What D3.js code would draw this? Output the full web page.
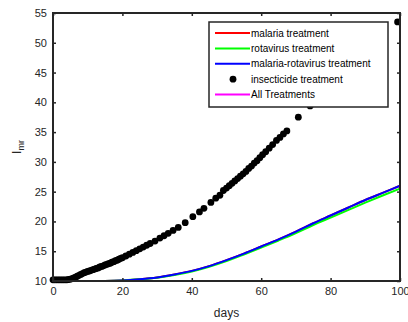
<!DOCTYPE html>
<html>
<head>
<meta charset="utf-8">
<script src="https://cdn.jsdelivr.net/npm/d3@7"></script>
<style>
  body { margin: 0; background: #fff; }
  svg { display: block; font-family: "Liberation Sans", Arial, sans-serif; }
</style>
</head>
<body>
<div id="chart"></div>
<script>
// solver output for the curve series (days)
var lineDays = [0, 5, 10, 15, 20, 25, 30, 35, 40, 45, 50, 55, 60, 65, 70, 75, 80, 85, 90, 95, 100];
var malaria =     [10, 10, 10, 10.02, 10.1, 10.3, 10.6, 11.1, 11.7, 12.5, 13.5, 14.6, 15.8, 17.0, 18.3, 19.7, 21.0, 22.3, 23.6, 24.8, 26.0];
var rotavirus =   [10, 10, 10, 10.02, 10.1, 10.28, 10.55, 11.0, 11.6, 12.4, 13.35, 14.45, 15.6, 16.8, 18.05, 19.4, 20.65, 21.9, 23.15, 24.35, 25.5];
var malariaRota = [10, 10, 10, 10.02, 10.1, 10.3, 10.6, 11.1, 11.7, 12.5, 13.5, 14.6, 15.8, 17.0, 18.3, 19.7, 21.0, 22.3, 23.6, 24.8, 26.0];
var allTreat =    [10, 10, 10, 10, 10, 10, 10, 10, 10, 10, 10, 10, 10, 10, 10, 10, 10, 10, 10, 10, 10];

// insecticide treatment, plotted as markers
var insectDays = [0, 0.5, 1, 1.5, 2, 2.5, 3, 3.5, 4, 4.5, 5, 5.5, 6, 6.5, 7, 7.5, 8, 8.5, 9, 9.5,
  10, 10.5, 11, 11.5, 12, 12.5, 13, 13.5, 14, 14.5, 15, 15.5, 16, 16.5, 17, 17.5, 18, 18.5, 19, 19.5,
  20, 21, 22, 23, 24, 25, 26, 27, 28, 29.4, 30.8, 32, 33.2, 34.6, 36.1, 38.1, 40.3, 42.2, 43.5, 45.5,
  46.9, 48.1, 49.1, 50, 50.8, 51.6, 52.4, 53.2, 54, 54.8, 55.6, 56.4, 57.2, 58, 58.8, 59.6, 60.4, 61.3,
  62.3, 63.3, 64.4, 65.4, 66.4, 67.4, 70.7, 74.1, 78, 82, 86, 90, 94.5, 99.3];
var insectVals = [10.2, 10.2, 10.2, 10.2, 10.2, 10.2, 10.2, 10.2, 10.2, 10.25, 10.3, 10.4, 10.5, 10.65, 10.8, 10.95, 11.1, 11.25, 11.4, 11.5,
  11.6, 11.7, 11.8, 11.9, 12.0, 12.1, 12.2, 12.35, 12.45, 12.55, 12.7, 12.8, 12.9, 13.0, 13.15, 13.25, 13.4, 13.5, 13.65, 13.8,
  13.9, 14.2, 14.5, 14.8, 15.1, 15.4, 15.7, 16.0, 16.3, 16.7, 17.2, 17.6, 18.0, 18.5, 19.0, 19.8, 20.8, 21.6, 22.2, 23.2,
  23.9, 24.4, 25.2, 25.6, 26.0, 26.4, 26.8, 27.2, 27.6, 28.0, 28.4, 28.9, 29.3, 29.8, 30.2, 30.7, 31.2, 31.7,
  32.3, 32.9, 33.6, 34.1, 34.7, 35.2, 37.5, 39.4, 41.8, 44.2, 46.5, 48.8, 51.2, 53.5];

var xTicks = [0, 20, 40, 60, 80, 100];
var yTicks = [10, 15, 20, 25, 30, 35, 40, 45, 50, 55];
var legendNames = ['malaria treatment', 'rotavirus treatment', 'malaria-rotavirus treatment', 'insecticide treatment', 'All Treatments'];

var width = 408, height = 322;
var margin = {left: 53, right: 8, top: 13, bottom: 41};
var axisColor = '#262626';

var svg = d3.select('#chart').append('svg').attr('width', width).attr('height', height);
var iw = width - margin.left - margin.right, ih = height - margin.top - margin.bottom;
var g = svg.append('g').attr('transform', 'translate(' + margin.left + ',' + margin.top + ')');

var x = d3.scaleLinear().domain([0, 100]).range([0, iw]);
var y = d3.scaleLinear().domain([10, 55]).range([ih, 0]);

var lineGen = d3.line().x((d, i) => x(lineDays[i])).y(d => y(d)).curve(d3.curveMonotoneX);

var series = [
  {vals: malaria, color: '#ff0000'},
  {vals: rotavirus, color: '#00ff00'},
  {vals: malariaRota, color: '#0000ff'}
];
series.forEach(function(s) {
  g.append('path').attr('d', lineGen(s.vals)).attr('fill', 'none')
    .attr('stroke', s.color).attr('stroke-width', 2);
});

g.selectAll('circle.pt').data(insectVals).enter().append('circle')
  .attr('class', 'pt')
  .attr('cx', (d, i) => x(insectDays[i]))
  .attr('cy', d => y(d))
  .attr('r', 3.4)
  .attr('fill', '#000');

g.append('path').attr('d', lineGen(allTreat)).attr('fill', 'none')
  .attr('stroke', '#ff00ff').attr('stroke-width', 2.2);

// axes (box with inward ticks)
var xb = d3.axisBottom(x).tickValues(xTicks).tickSizeInner(-3).tickSizeOuter(0).tickPadding(6);
var xt = d3.axisTop(x).tickValues(xTicks).tickSizeInner(-3).tickSizeOuter(0).tickFormat('');
var yl = d3.axisLeft(y).tickValues(yTicks).tickSizeInner(-3).tickSizeOuter(0).tickPadding(6);
var yr = d3.axisRight(y).tickValues(yTicks).tickSizeInner(-3).tickSizeOuter(0).tickFormat('');

function styleAxis(sel) {
  sel.select('.domain').remove();
  sel.selectAll('.tick line').attr('stroke', axisColor).attr('stroke-width', 1.5);
  sel.selectAll('.tick text').attr('fill', axisColor).style('font-size', '11px')
    .style('font-family', '"Liberation Sans", Arial, sans-serif');
}
g.append('g').attr('transform', 'translate(0,' + ih + ')').call(xb).call(styleAxis);
g.append('g').call(xt).call(styleAxis);
g.append('g').call(yl).call(styleAxis);
g.append('g').attr('transform', 'translate(' + iw + ',0)').call(yr).call(styleAxis);

g.append('rect').attr('x', 0).attr('y', 0).attr('width', iw).attr('height', ih)
  .attr('fill', 'none').attr('stroke', axisColor).attr('stroke-width', 2);

// axis labels
svg.append('text').attr('x', margin.left + iw / 2).attr('y', 317)
  .attr('text-anchor', 'middle').attr('fill', axisColor).style('font-size', '12px').text('days');

var yLab = svg.append('text').attr('transform', 'translate(21,' + (margin.top + ih / 2) + ') rotate(-90)')
  .attr('text-anchor', 'middle').attr('fill', axisColor).style('font-size', '12px');
yLab.append('tspan').text('I');
yLab.append('tspan').attr('dy', 3).style('font-size', '9px').text('mr');

// legend
var lg = svg.append('g').attr('transform', 'translate(209,22)');
lg.append('rect').attr('width', 179).attr('height', 85).attr('fill', '#fff')
  .attr('stroke', axisColor).attr('stroke-width', 1.5);
var legColors = ['#ff0000', '#00ff00', '#0000ff', '#000', '#ff00ff'];
legendNames.forEach(function(name, i) {
  var ly = 11 + i * 15.4;
  if (i === 3) {
    lg.append('circle').attr('cx', 24).attr('cy', ly).attr('r', 3.4).attr('fill', '#000');
  } else {
    lg.append('line').attr('x1', 6).attr('x2', 41).attr('y1', ly).attr('y2', ly)
      .attr('stroke', legColors[i]).attr('stroke-width', 2);
  }
  lg.append('text').attr('x', 42).attr('y', ly).attr('dy', '0.35em')
    .attr('fill', '#000').style('font-size', '10px').text(name);
});
</script>
</body>
</html>
